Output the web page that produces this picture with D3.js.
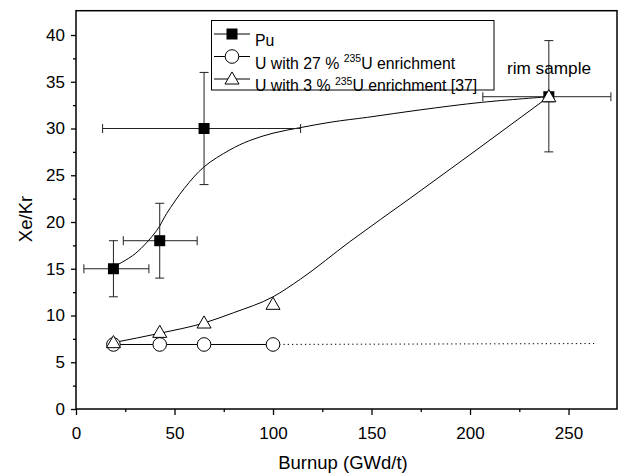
<!DOCTYPE html>
<html>
<head>
<meta charset="utf-8">
<script src="https://cdn.jsdelivr.net/npm/d3@7"></script>
<style>
  body { margin: 0; background: #fff; }
  svg { display: block; font-family: "Liberation Sans", Arial, sans-serif; }
</style>
</head>
<body>
<div id="chart"></div>
<script>
// Pu points with error bars (last one is the rim sample)
const puX = [19, 42.5, 65, 240];
const puY = [15, 18, 30, 33.4];
const puXlo = [4, 24, 13.5, 206.5];
const puXhi = [37, 61.5, 114, 271.5];
const puYlo = [12, 14, 24, 27.5];
const puYhi = [18, 22, 36, 39.4];
// U with 27 % 235U
const u27X = [19, 42.5, 65, 100];
const u27Y = [6.9, 6.9, 6.9, 6.9];
// U with 3 % 235U [37]
const u3X = [19, 42.5, 65, 100, 240];
const u3Y = [7.1, 8.2, 9.2, 11.2, 33.4];
// fitted curves
const puFit = [[19, 15.2], [30, 16.6], [41, 19.1], [46, 20.9], [55, 23.6], [65, 25.9], [78, 27.7], [88, 28.7], [100, 29.5], [114, 30.1], [130, 30.7], [148, 31.2], [175, 32], [206, 32.8], [240, 33.4]];
const u3Fit = [[19, 7.1], [42.5, 8.1], [65, 9.2], [80, 10.3], [100, 12], [114, 13.9], [139, 17.9], [170, 22.6], [200, 27.2], [240, 33.4]];
const u27Dotted = [[90, 6.9], [263, 7.0]];

const xTicks = [0, 50, 100, 150, 200, 250];
const yTicks = [0, 5, 10, 15, 20, 25, 30, 35, 40];

const width = 619, height = 473;
const margin = {top: 10.7, right: 2, bottom: 64, left: 76};

const x = d3.scaleLinear().domain([0, 274.6]).range([margin.left, width - margin.right]);
const y = d3.scaleLinear().domain([0, 42.6]).range([height - margin.bottom, margin.top]);

const svg = d3.select("#chart").append("svg")
    .attr("width", width)
    .attr("height", height);

// minor ticks
svg.append("g")
    .attr("transform", `translate(0,${y(0)})`)
    .call(d3.axisBottom(x).tickValues(d3.range(25, 275, 50)).tickSize(3).tickFormat(""))
    .call(g => g.select(".domain").remove());
svg.append("g")
    .attr("transform", `translate(${x(0)},0)`)
    .call(d3.axisLeft(y).tickValues(d3.range(2.5, 42.5, 5)).tickSize(3).tickFormat(""))
    .call(g => g.select(".domain").remove());

// major ticks
svg.append("g")
    .attr("transform", `translate(0,${y(0)})`)
    .call(d3.axisBottom(x).tickValues(xTicks).tickSize(6).tickPadding(12).tickFormat(d3.format("d")))
    .call(g => g.select(".domain").remove())
    .call(g => g.selectAll("text").attr("font-size", 17).attr("fill", "#000").attr("font-family", null));
svg.append("g")
    .attr("transform", `translate(${x(0)},0)`)
    .call(d3.axisLeft(y).tickValues(yTicks).tickSize(5).tickPadding(6).tickFormat(d3.format("d")))
    .call(g => g.select(".domain").remove())
    .call(g => g.selectAll("text").attr("font-size", 17).attr("fill", "#000").attr("font-family", null));
svg.selectAll(".tick line").attr("stroke", "#000").attr("stroke-width", 1.3);

// frame
svg.append("rect")
    .attr("x", x(0)).attr("y", margin.top)
    .attr("width", x.range()[1] - x(0))
    .attr("height", y(0) - margin.top)
    .attr("fill", "none").attr("stroke", "#000").attr("stroke-width", 1.5);

// axis titles
svg.append("text")
    .attr("x", 343).attr("y", 469)
    .attr("text-anchor", "middle")
    .attr("font-size", 18.5)
    .text("Burnup (GWd/t)");
svg.append("text")
    .attr("transform", `translate(32,219) rotate(-90)`)
    .attr("text-anchor", "middle")
    .attr("font-size", 18.5)
    .text("Xe/Kr");

const line = d3.line().x(d => x(d[0])).y(d => y(d[1]));

// fit curves
svg.append("path").datum(puFit)
    .attr("d", line.curve(d3.curveCatmullRom))
    .attr("fill", "none").attr("stroke", "#000").attr("stroke-width", 1);
svg.append("path").datum(u3Fit)
    .attr("d", line.curve(d3.curveMonotoneX))
    .attr("fill", "none").attr("stroke", "#000").attr("stroke-width", 1);
svg.append("path").datum(u27X.map((d, i) => [d, u27Y[i]]))
    .attr("d", line.curve(d3.curveLinear))
    .attr("fill", "none").attr("stroke", "#000").attr("stroke-width", 1);
svg.append("path").datum(u27Dotted)
    .attr("d", line.curve(d3.curveLinear))
    .attr("fill", "none").attr("stroke", "#000").attr("stroke-width", 1)
    .attr("stroke-dasharray", "1.3,3");

// error bars
const eb = svg.append("g").attr("stroke", "#222").attr("stroke-width", 1);
puX.forEach((px, i) => {
    const cx = x(px), cy = y(puY[i]);
    eb.append("line").attr("x1", x(puXlo[i])).attr("x2", x(puXhi[i])).attr("y1", cy).attr("y2", cy);
    eb.append("line").attr("x1", x(puXlo[i])).attr("x2", x(puXlo[i])).attr("y1", cy - 4.5).attr("y2", cy + 4.5);
    eb.append("line").attr("x1", x(puXhi[i])).attr("x2", x(puXhi[i])).attr("y1", cy - 4.5).attr("y2", cy + 4.5);
    eb.append("line").attr("x1", cx).attr("x2", cx).attr("y1", y(puYlo[i])).attr("y2", y(puYhi[i]));
    eb.append("line").attr("x1", cx - 4.5).attr("x2", cx + 4.5).attr("y1", y(puYlo[i])).attr("y2", y(puYlo[i]));
    eb.append("line").attr("x1", cx - 4.5).attr("x2", cx + 4.5).attr("y1", y(puYhi[i])).attr("y2", y(puYhi[i]));
});

// markers
const tri = d3.symbol().type(d3.symbolTriangle).size(85);
function drawSquare(g, cx, cy) {
    g.append("rect").attr("x", cx - 5.5).attr("y", cy - 5.5).attr("width", 11).attr("height", 11).attr("fill", "#000");
}
function drawCircle(g, cx, cy) {
    g.append("circle").attr("cx", cx).attr("cy", cy).attr("r", 6.8).attr("fill", "#fff").attr("stroke", "#000").attr("stroke-width", 1);
}
function drawTri(g, cx, cy) {
    g.append("path").attr("d", tri()).attr("transform", `translate(${cx},${cy + 1})`)
        .attr("fill", "#fff").attr("stroke", "#000").attr("stroke-width", 1);
}
const mk = svg.append("g");
puX.forEach((d, i) => drawSquare(mk, x(d), y(puY[i])));
u27X.forEach((d, i) => drawCircle(mk, x(d), y(u27Y[i])));
u3X.forEach((d, i) => drawTri(mk, x(d), y(u3Y[i])));

// rim sample label
svg.append("text")
    .attr("x", 549).attr("y", 74)
    .attr("text-anchor", "middle")
    .attr("font-size", 17.2)
    .text("rim sample");

// legend
const lg = svg.append("g");
lg.append("rect").attr("x", 211.5).attr("y", 20.5).attr("width", 282.5).attr("height", 69.5)
    .attr("fill", "#fff").attr("stroke", "#000").attr("stroke-width", 1);
const legendRows = [
    {y: 34, draw: drawSquare, parts: [["Pu", false]]},
    {y: 56.5, draw: drawCircle, parts: [["U with 27 % ", false], ["235", true], ["U enrichment", false]]},
    {y: 79, draw: drawTri, parts: [["U with 3 % ", false], ["235", true], ["U enrichment [37]", false]]}
];
legendRows.forEach(r => {
    lg.append("line").attr("x1", 214).attr("x2", 250).attr("y1", r.y).attr("y2", r.y).attr("stroke", "#000");
    r.draw(lg, 232, r.y);
    const t = lg.append("text").attr("x", 255).attr("y", r.y + 5.6).attr("font-size", 15.8);
    r.parts.forEach(p => {
        if (p[1]) t.append("tspan").attr("dy", -6.5).attr("font-size", 10.5).text(p[0]);
        else t.append("tspan").attr("dy", t.selectAll("tspan").size() > 0 ? 6.5 : 0).text(p[0]);
    });
});
</script>
</body>
</html>
